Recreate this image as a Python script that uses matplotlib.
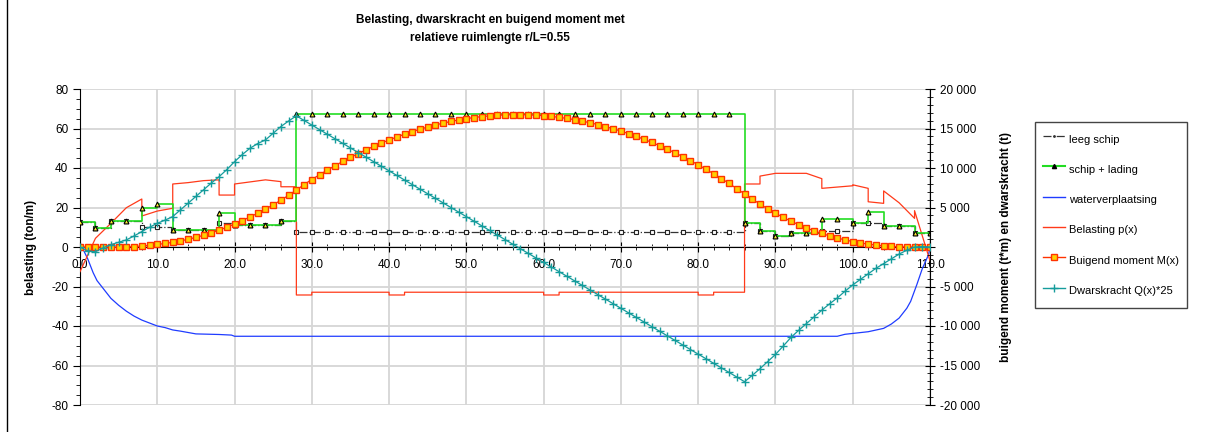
import numpy as np
import matplotlib
matplotlib.use("Agg")
import matplotlib.pyplot as plt
from matplotlib.ticker import MultipleLocator, FuncFormatter
from matplotlib.lines import Line2D

plt.rcParams['font.family'] = ['Liberation Sans', 'DejaVu Sans']
plt.rcParams['axes.unicode_minus'] = False

# --- step loads: segment edges (m) and value per segment (ton/m) ---
step_x = [0, 2, 4, 8, 10, 12, 18, 20, 26, 28, 86, 88, 90, 92, 96, 100, 102, 104, 108, 110]
leeg_schip = [12.5, 9.5, 13.2, 10.0, 10.0, 8.6, 12.0, 11.1, 13.3, 7.8,
              12.3, 8.1, 5.6, 7.3, 8.1, 12.3, 12.3, 10.8, 7.0]
schip_lading = [12.5, 9.5, 13.2, 19.5, 22.0, 8.6, 17.0, 11.1, 13.3, 67.2,
                12.3, 8.1, 5.6, 7.3, 14.0, 12.3, 17.7, 10.8, 7.0]

# --- buoyancy (ton/m) ---
water_x = [0, 0.5, 1.0, 1.7, 2.2, 3, 4, 5, 6, 7, 8, 9, 10, 11, 12, 13, 15, 18, 19.6, 20,
           98, 99, 102, 104, 105, 106, 107, 107.5, 108.3, 109, 109.8, 110]
water_y = [0, -2, -6, -13, -17, -21, -26, -29.5, -32.5, -35, -37, -38.5, -40, -40.8, -42,
           -42.6, -44, -44.3, -44.6, -45.2, -45.2, -44.2, -42.9, -41.2, -39, -36, -31,
           -27.5, -19, -11, -4, 0]

# --- net load p(x) (ton/m) ---
bel_x = [0, 2, 4, 6, 8, 8, 10, 12, 12, 14, 16, 18, 18, 20, 20, 24, 26, 26, 28, 28,
         30, 30, 40, 40, 42, 42, 60, 60, 62, 62, 80, 80, 82, 82, 86, 86, 88, 88, 90, 94,
         96, 96, 100, 100, 102, 102, 104, 104, 106, 108, 108, 110]
bel_y = [-12.5, 4.4, 12.0, 19.9, 24.3, 15.7, 18.2, 19.6, 31.9, 32.6, 33.6, 34.0, 26.3,
         26.3, 31.9, 34.0, 33.1, 30.5, 30.5, -24.3, -24.3, -22.9, -22.9, -24.3, -24.3,
         -22.9, -22.9, -24.3, -24.3, -22.9, -22.9, -24.3, -24.3, -22.9, -22.9, 31.9, 31.9,
         35.9, 37.3, 37.3, 34.6, 29.7, 31.0, 31.5, 29.7, 22.9, 22.1, 28.4, 22.4, 14.5,
         18.4, -7.0]

# --- bending moment and shear*25, one value per metre (0..110) ---
station = np.arange(0, 111)
moment = [0, -10, -20, -30, -30, -20, 10, 60, 120, 210,
          320, 450, 590, 770, 980, 1220, 1480, 1790, 2130, 2510,
          2910, 3350, 3800, 4280, 4800, 5350, 5920, 6550, 7200, 7910,
          8540, 9150, 9730, 10290, 10830, 11340, 11830, 12290, 12740, 13160,
          13550, 13930, 14280, 14600, 14910, 15190, 15450, 15680, 15890, 16080,
          16250, 16390, 16510, 16600, 16670, 16720, 16750, 16750, 16730, 16680,
          16620, 16530, 16410, 16280, 16120, 15930, 15730, 15500, 15240, 14970,
          14670, 14350, 14000, 13630, 13240, 12820, 12380, 11920, 11440, 10930,
          10400, 9840, 9270, 8670, 8040, 7390, 6720, 6070, 5430, 4830,
          4270, 3750, 3270, 2830, 2420, 2050, 1710, 1410, 1140, 900,
          690, 510, 360, 240, 140, 70, 20, 0, -10, -10, 0]
shear25 = [0, -500, -600, -100, 300, 600, 900, 1400, 1950, 2500,
           3000, 3400, 3850, 4700, 5550, 6400, 7250, 8100, 8900, 9800,
           10800, 11700, 12500, 13100, 13550, 14400, 15250, 15950, 16600, 16020,
           15440, 14860, 14280, 13700, 13120, 12540, 11960, 11380, 10800, 10220,
           9640, 9060, 8480, 7900, 7320, 6740, 6160, 5580, 5000, 4420,
           3840, 3260, 2680, 2100, 1520, 940, 360, -220, -800, -1380,
           -1960, -2540, -3120, -3700, -4280, -4860, -5440, -6020, -6600, -7180,
           -7760, -8340, -8920, -9500, -10080, -10660, -11240, -11820, -12400, -12980,
           -13560, -14140, -14720, -15300, -15880, -16460, -17050, -16250, -15400, -14500,
           -13600, -12550, -11450, -10550, -9700, -8850, -8000, -7200, -6450, -5600,
           -4800, -4100, -3400, -2700, -2100, -1500, -900, -400, 0, 50, 0]


def step_line(edges, vals):
    xs = np.repeat(edges, 2)[1:-1]
    ys = np.repeat(vals, 2)
    return xs, ys


def step_marks(edges, vals, spacing=2):
    xs = np.arange(edges[0], edges[-1] + 0.1, spacing)
    idx = np.clip(np.searchsorted(edges, xs, side='right') - 1, 0, len(vals) - 1)
    return xs, np.asarray(vals)[idx]


fig = plt.figure(figsize=(12.18, 4.32), dpi=100)
ax = fig.add_axes([80 / 1218, 27 / 432, 850 / 1218, 316 / 432])
ax2 = ax.twinx()

# left axis series
lx, ly = step_line(step_x, leeg_schip)
ax.plot(lx, ly, color='#333333', lw=0.9, ls='-.', zorder=3)
mx, my = step_marks(step_x, leeg_schip)
ax.plot(mx, my, ls='none', marker='s', ms=2.5, mfc='white', mec='#222222', mew=0.8, zorder=3)

gx, gy = step_line(step_x, schip_lading)
ax.plot(gx, gy, color='#22dd22', lw=1.2, zorder=4)
mx, my = step_marks(step_x, schip_lading)
ax.plot(mx, my, ls='none', marker='^', ms=3.5, mfc='#ffee33', mec='black', mew=0.8, zorder=4)

ax.plot(water_x, water_y, color='#1f3cff', lw=0.9, zorder=3)
ax.plot(bel_x, bel_y, color='#ff3a1a', lw=0.9, zorder=3)

# right axis series
ax2.plot(station, moment, color='#ff3300', lw=0.9, marker='s', ms=4.5,
         mfc='#ffd000', mec='#ff3300', mew=1.0, zorder=5)
ax2.plot(station, shear25, color='#159c9c', lw=0.9, marker='+', ms=6, mew=1.0, zorder=6)

# axes setup
ax.set_xlim(0, 110)
ax.set_ylim(-80, 80)
ax2.set_ylim(-20000, 20000)

ax.spines['bottom'].set_position(('data', 0))
ax.spines['top'].set_visible(False)
ax.spines['right'].set_visible(False)
for s in ['top', 'bottom', 'left']:
    ax2.spines[s].set_visible(False)

ax.xaxis.set_major_locator(MultipleLocator(10))
ax.xaxis.set_minor_locator(MultipleLocator(2))
ax.xaxis.set_major_formatter(FuncFormatter(lambda v, p: f'{v:.1f}'))
ax.yaxis.set_major_locator(MultipleLocator(20))
ax.yaxis.set_minor_locator(MultipleLocator(5))
ax.yaxis.set_major_formatter(FuncFormatter(lambda v, p: f'{v:.0f}'))
ax2.yaxis.set_major_locator(MultipleLocator(5000))
ax2.yaxis.set_minor_locator(MultipleLocator(1000))
ax2.yaxis.set_major_formatter(
    FuncFormatter(lambda v, p: '' if v == 0 else f'{v:,.0f}'.replace(',', ' ')))

ax.tick_params(axis='x', which='major', direction='inout', length=7, pad=5, labelsize=8.5)
ax.tick_params(axis='x', which='minor', direction='inout', length=4)
ax.tick_params(axis='y', which='major', direction='out', length=5, labelsize=8.5)
ax.tick_params(axis='y', which='minor', direction='out', length=3)
ax2.tick_params(axis='y', which='major', direction='inout', length=7, labelsize=8.5)
ax2.tick_params(axis='y', which='minor', direction='inout', length=4)

ax.grid(True, which='major', color='#d6d6d6', lw=1.3)
ax.set_axisbelow(True)

ax.set_ylabel('belasting (ton/m)', fontsize=8.5, fontweight='bold')
ax.yaxis.set_label_coords(-0.05, 0.5)
ax2.set_ylabel('buigend moment (t*m) en dwarskracht (t)', fontsize=8.5, fontweight='bold')
ax2.yaxis.set_label_coords(1.082, 0.5)

fig.text(490 / 1218, 1 - 29 / 432,
         'Belasting, dwarskracht en buigend moment met\nrelatieve ruimlengte r/L=0.55',
         ha='center', va='center', fontsize=8.5, fontweight='bold', linespacing=1.6)

handles = [
    Line2D([], [], color='#333333', lw=0.9, ls='-.', marker='.', ms=2),
    Line2D([], [], color='#22dd22', lw=1.5, marker='^', ms=3, mfc='black', mec='black'),
    Line2D([], [], color='#1f3cff', lw=1.0),
    Line2D([], [], color='#ff3a1a', lw=1.0),
    Line2D([], [], color='#ff3300', lw=1.0, marker='s', ms=4.5, mfc='#ffd000', mec='#ff3300'),
    Line2D([], [], color='#159c9c', lw=1.0, marker='+', ms=6),
]
labels = ['leeg schip', 'schip + lading', 'waterverplaatsing', 'Belasting p(x)',
          'Buigend moment M(x)', 'Dwarskracht Q(x)*25']
leg = fig.legend(handles, labels, loc='upper left', bbox_to_anchor=(1035 / 1218, 1 - 122 / 432),
                 fontsize=8, frameon=True, fancybox=False, edgecolor='#444444',
                 framealpha=1, borderpad=0.7, labelspacing=1.05, handlelength=2.0,
                 handleheight=2.2, handletextpad=0.4, borderaxespad=0)
leg.get_frame().set_linewidth(1.0)

fig.add_artist(Line2D([7 / 1218, 7 / 1218], [0, 1], color='black', lw=1))

fig.savefig('out.png', dpi=100)
